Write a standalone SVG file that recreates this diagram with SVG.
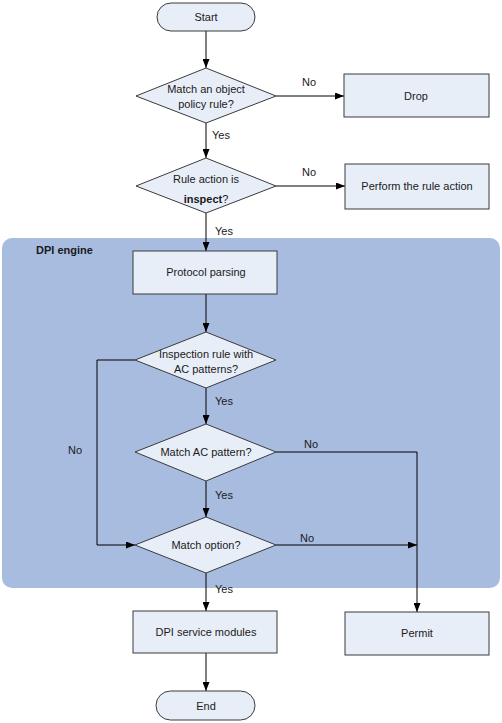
<svg xmlns="http://www.w3.org/2000/svg" width="502" height="723" viewBox="0 0 502 723">
<style>
.n{fill:#e8eef8;stroke:#3a3a3a;stroke-width:1}
.t{font-family:"Liberation Sans",Arial,sans-serif;font-size:11px;fill:#1a1a1a;text-anchor:middle}
.l{font-family:"Liberation Sans",Arial,sans-serif;font-size:11px;fill:#1a1a1a}
.c{fill:none;stroke:#000;stroke-width:1}
</style>
<defs>
<marker id="a" markerWidth="9" markerHeight="7" refX="9" refY="3.5" orient="auto" markerUnits="userSpaceOnUse">
<path d="M0,0 L9,3.5 L0,7 Z" fill="#000"/>
</marker>
</defs>
<g id="dpi-engine">
<rect x="2" y="238" width="498" height="350" rx="10" fill="#a8bce0"/>
<text class="l" x="36" y="254" font-weight="bold">DPI engine</text>
</g>
<g id="connectors">
<path class="c" d="M206,31 V68" marker-end="url(#a)"/>
<path class="c" d="M276,96 H344" marker-end="url(#a)"/>
<path class="c" d="M206,123 V158" marker-end="url(#a)"/>
<path class="c" d="M276,186 H345" marker-end="url(#a)"/>
<path class="c" d="M206,213 V251" marker-end="url(#a)"/>
<path class="c" d="M206,294 V332" marker-end="url(#a)"/>
<path class="c" d="M206,388 V424" marker-end="url(#a)"/>
<path class="c" d="M135,360 H97 V545 H135" marker-end="url(#a)"/>
<path class="c" d="M276,452 H417 V612" marker-end="url(#a)"/>
<path class="c" d="M206,481 V517" marker-end="url(#a)"/>
<path class="c" d="M276,545 H417" marker-end="url(#a)"/>
<path class="c" d="M206,573 V611" marker-end="url(#a)"/>
<path class="c" d="M206,653 V691" marker-end="url(#a)"/>
<text class="l" x="302" y="86">No</text>
<text class="l" x="212" y="139">Yes</text>
<text class="l" x="302" y="176">No</text>
<text class="l" x="215" y="235">Yes</text>
<text class="l" x="215" y="405">Yes</text>
<text class="l" x="68" y="454">No</text>
<text class="l" x="304" y="448">No</text>
<text class="l" x="215" y="499">Yes</text>
<text class="l" x="300" y="542">No</text>
<text class="l" x="215" y="593">Yes</text>
</g>
<g id="start">
<rect class="n" x="157" y="3" width="98" height="28" rx="14"/>
<text class="t" x="206" y="21">Start</text>
</g>
<g id="match-object">
<path class="n" d="M206,68 L276,96 L206,123 L136,96 Z"/>
<text class="t" x="206" y="93">Match an object</text>
<text class="t" x="206" y="108">policy rule?</text>
</g>
<g id="drop">
<rect class="n" x="344" y="74" width="145" height="43"/>
<text class="t" x="416" y="100">Drop</text>
</g>
<g id="rule-action">
<path class="n" d="M206,158 L276,186 L206,213 L136,186 Z"/>
<text class="t" x="206" y="183">Rule action is</text>
<text class="t" x="206" y="203"><tspan font-weight="bold">inspect</tspan>?</text>
</g>
<g id="perform">
<rect class="n" x="345" y="164" width="144" height="45"/>
<text class="t" x="417" y="190">Perform the rule action</text>
</g>
<g id="protocol-parsing">
<rect class="n" x="133" y="251" width="144" height="43"/>
<text class="t" x="206" y="276">Protocol parsing</text>
</g>
<g id="inspection-rule">
<path class="n" d="M206,332 L276,360 L206,388 L135,360 Z"/>
<text class="t" x="206" y="358">Inspection rule with</text>
<text class="t" x="206" y="373">AC patterns?</text>
</g>
<g id="match-ac">
<path class="n" d="M206,424 L276,452 L206,481 L135,452 Z"/>
<text class="t" x="206" y="456">Match AC pattern?</text>
</g>
<g id="match-option">
<path class="n" d="M206,517 L276,545 L206,573 L135,545 Z"/>
<text class="t" x="206" y="549">Match option?</text>
</g>
<g id="dpi-service">
<rect class="n" x="133" y="611" width="144" height="42"/>
<text class="t" x="206" y="636">DPI service modules</text>
</g>
<g id="permit">
<rect class="n" x="345" y="612" width="144" height="43"/>
<text class="t" x="417" y="637">Permit</text>
</g>
<g id="end">
<rect class="n" x="156" y="691" width="99" height="29" rx="14.5"/>
<text class="t" x="206" y="710">End</text>
</g>
</svg>
